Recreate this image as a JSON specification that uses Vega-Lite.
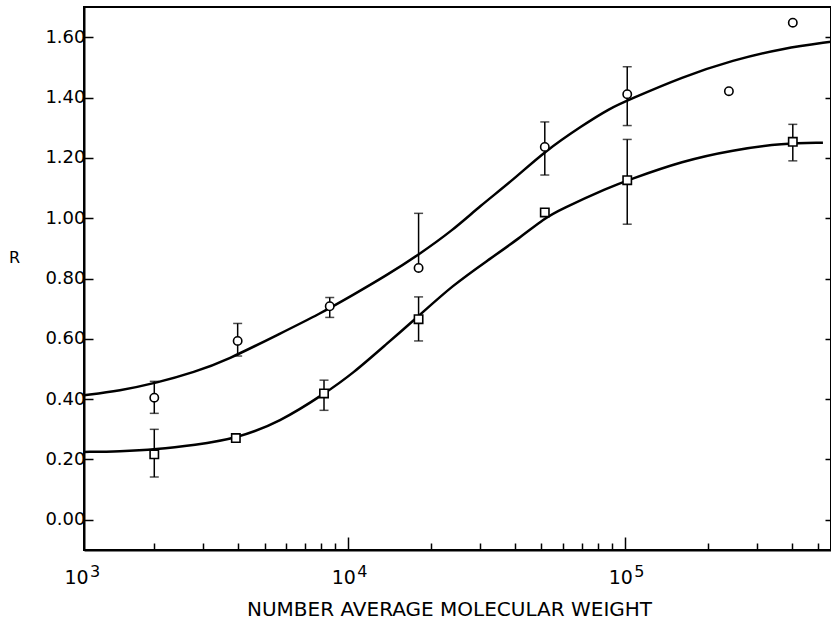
{
  "$schema": "https://vega.github.io/schema/vega-lite/v6.json",
  "width": 747,
  "height": 543,
  "autosize": {"type": "none"},
  "padding": {"left": 84, "top": 7, "right": 0, "bottom": 70},
  "background": "white",
  "config": {
    "view": {"stroke": "black", "strokeWidth": 2},
    "font": "DejaVu Sans",
    "axis": {
      "domainColor": "black", "tickColor": "black", "labelColor": "black", "titleColor": "black",
      "labelFont": "DejaVu Sans", "titleFont": "DejaVu Sans", "grid": false,
      "domainWidth": 2, "tickWidth": 1.5
    }
  },
  "datasets": {
    "curves": [
      {"series": "circle", "M": 1115, "R": 0.413},
      {"series": "circle", "M": 1500, "R": 0.428},
      {"series": "circle", "M": 2040, "R": 0.454},
      {"series": "circle", "M": 2800, "R": 0.49},
      {"series": "circle", "M": 3650, "R": 0.529},
      {"series": "circle", "M": 5680, "R": 0.617},
      {"series": "circle", "M": 7925, "R": 0.683},
      {"series": "circle", "M": 10420, "R": 0.745},
      {"series": "circle", "M": 13830, "R": 0.811},
      {"series": "circle", "M": 17890, "R": 0.877},
      {"series": "circle", "M": 23930, "R": 0.96},
      {"series": "circle", "M": 29960, "R": 1.04},
      {"series": "circle", "M": 39420, "R": 1.126},
      {"series": "circle", "M": 51400, "R": 1.222},
      {"series": "circle", "M": 70460, "R": 1.308},
      {"series": "circle", "M": 88260, "R": 1.364},
      {"series": "circle", "M": 102600, "R": 1.391},
      {"series": "circle", "M": 161900, "R": 1.469},
      {"series": "circle", "M": 245600, "R": 1.524},
      {"series": "circle", "M": 371500, "R": 1.563},
      {"series": "circle", "M": 555000, "R": 1.585},
      {"series": "square", "M": 1115, "R": 0.225},
      {"series": "square", "M": 1500, "R": 0.227},
      {"series": "square", "M": 2030, "R": 0.233},
      {"series": "square", "M": 2800, "R": 0.248},
      {"series": "square", "M": 3940, "R": 0.269},
      {"series": "square", "M": 5680, "R": 0.324},
      {"series": "square", "M": 8260, "R": 0.419},
      {"series": "square", "M": 10420, "R": 0.485},
      {"series": "square", "M": 13830, "R": 0.584},
      {"series": "square", "M": 17890, "R": 0.673},
      {"series": "square", "M": 23930, "R": 0.778},
      {"series": "square", "M": 31760, "R": 0.858},
      {"series": "square", "M": 41780, "R": 0.935},
      {"series": "square", "M": 51400, "R": 1.0},
      {"series": "square", "M": 58240, "R": 1.028},
      {"series": "square", "M": 88260, "R": 1.103},
      {"series": "square", "M": 102600, "R": 1.126},
      {"series": "square", "M": 161900, "R": 1.19},
      {"series": "square", "M": 245600, "R": 1.226},
      {"series": "square", "M": 371500, "R": 1.248},
      {"series": "square", "M": 519000, "R": 1.25}
    ],
    "points": [
      {"series": "circle", "M": 2000, "R": 0.405, "lo": 0.353, "hi": 0.459},
      {"series": "circle", "M": 4000, "R": 0.593, "lo": 0.543, "hi": 0.651},
      {"series": "circle", "M": 8600, "R": 0.708, "lo": 0.671, "hi": 0.737},
      {"series": "circle", "M": 18000, "R": 0.835, "lo": 0.835, "hi": 1.016},
      {"series": "circle", "M": 51400, "R": 1.236, "lo": 1.143, "hi": 1.319},
      {"series": "circle", "M": 102000, "R": 1.411, "lo": 1.307, "hi": 1.502},
      {"series": "circle", "M": 237500, "R": 1.421, "lo": null, "hi": null},
      {"series": "circle", "M": 404000, "R": 1.648, "lo": null, "hi": null},
      {"series": "square", "M": 2000, "R": 0.217, "lo": 0.142, "hi": 0.3},
      {"series": "square", "M": 3940, "R": 0.271, "lo": null, "hi": null},
      {"series": "square", "M": 8200, "R": 0.419, "lo": 0.363, "hi": 0.463},
      {"series": "square", "M": 18000, "R": 0.665, "lo": 0.593, "hi": 0.739},
      {"series": "square", "M": 51400, "R": 1.019, "lo": null, "hi": null},
      {"series": "square", "M": 102000, "R": 1.126, "lo": 0.98, "hi": 1.261},
      {"series": "square", "M": 404000, "R": 1.253, "lo": 1.19, "hi": 1.311}
    ]
  },
  "layer": [
    {
      "encoding": {
        "x": {
          "field": "M", "type": "quantitative", "title": "NUMBER  AVERAGE  MOLECULAR  WEIGHT",
          "scale": {"type": "log", "domain": [1115, 555000], "nice": false},
          "axis": {
            "orient": "bottom",
            "values": [2000, 3000, 4000, 5000, 6000, 7000, 8000, 9000, 10000, 20000, 30000, 40000, 50000, 60000, 70000, 80000, 90000, 100000, 200000, 300000, 400000, 500000],
            "labels": false,
            "tickSize": {"condition": {"test": "datum.value == 10000 || datum.value == 100000", "value": -13}, "value": -7},
            "titleFontSize": 20, "titleFontWeight": "normal", "titleX": 365, "titleY": 65,
            "titleAlign": "center", "titleBaseline": "alphabetic", "titleAnchor": null
          }
        }
      },
      "layer": [
        {
          "data": {"name": "curves"},
          "mark": {"type": "line", "interpolate": "basis", "color": "black", "strokeWidth": 2.5},
          "encoding": {
            "y": {
              "field": "R", "type": "quantitative", "title": "R",
              "scale": {"domain": [-0.1, 1.7], "nice": false, "zero": false},
              "axis": {
                "orient": "left",
                "values": [0, 0.2, 0.4, 0.6, 0.8, 1, 1.2, 1.4, 1.6], "format": ".2f",
                "tickSize": -9, "labelFontSize": 18, "labelPadding": 8,
                "titleAngle": 0, "titleX": -70, "titleY": 250, "titleAlign": "center", "titleBaseline": "middle",
                "titleFontSize": 16, "titleFontWeight": "normal"
              }
            },
            "detail": {"field": "series"}
          }
        },
        {
          "data": {"name": "points"},
          "transform": [{"filter": "isValid(datum.hi)"}],
          "mark": {"type": "rule", "color": "black", "strokeWidth": 1.5},
          "encoding": {
            "y": {"field": "lo", "type": "quantitative", "title": "R", "scale": {"domain": [-0.1, 1.7], "nice": false, "zero": false}},
            "y2": {"field": "hi"}
          }
        },
        {
          "data": {"name": "points"},
          "transform": [{"filter": "isValid(datum.hi)"}],
          "mark": {"type": "tick", "orient": "horizontal", "color": "black", "size": 9, "thickness": 1.5},
          "encoding": {
            "y": {"field": "hi", "type": "quantitative", "title": "R", "scale": {"domain": [-0.1, 1.7], "nice": false, "zero": false}}
          }
        },
        {
          "data": {"name": "points"},
          "transform": [{"filter": "isValid(datum.lo) && datum.lo < datum.R"}],
          "mark": {"type": "tick", "orient": "horizontal", "color": "black", "size": 9, "thickness": 1.5},
          "encoding": {
            "y": {"field": "lo", "type": "quantitative", "title": "R", "scale": {"domain": [-0.1, 1.7], "nice": false, "zero": false}}
          }
        },
        {
          "data": {"name": "points"},
          "mark": {"type": "point", "filled": true, "fill": "white", "stroke": "black", "strokeWidth": 1.6, "opacity": 1, "size": 70},
          "encoding": {
            "y": {"field": "R", "type": "quantitative", "title": "R", "scale": {"domain": [-0.1, 1.7], "nice": false, "zero": false}},
            "shape": {"field": "series", "type": "nominal", "scale": {"domain": ["circle", "square"], "range": ["circle", "square"]}, "legend": null}
          }
        }
      ]
    },
    {
      "data": {"name": "curves"},
      "mark": {"type": "point", "opacity": 0},
      "encoding": {
        "x": {
          "field": "M", "type": "quantitative", "title": null,
          "scale": {"type": "log", "domain": [1115, 555000], "nice": false},
          "axis": {
            "orient": "bottom", "values": [1115, 10000, 100000],
            "labelExpr": "'10'", "ticks": false, "tickSize": 0, "domain": false, "title": null,
            "labelFontSize": 19, "labelPadding": 33, "labelBaseline": "alphabetic", "labelAlign": "center",
            "labelFlush": false, "labelOverlap": false, "labelBound": false,
            "labelOffset": {"condition": {"test": "datum.value < 1200", "value": -8}, "value": -4.5}
          }
        },
        "y": {
          "field": "R", "type": "quantitative", "title": null,
          "scale": {"domain": [-0.1, 1.7], "nice": false, "zero": false},
          "axis": {"orient": "right", "values": [0, 0.2, 0.4, 0.6, 0.8, 1, 1.2, 1.4, 1.6], "labels": false, "domain": false, "tickSize": -6, "title": null}
        }
      }
    },
    {
      "data": {"name": "curves"},
      "mark": {"type": "point", "opacity": 0},
      "encoding": {
        "x": {
          "field": "M", "type": "quantitative", "title": null,
          "scale": {"type": "log", "domain": [1115, 555000], "nice": false},
          "axis": {
            "orient": "bottom", "values": [1115, 10000, 100000],
            "labelExpr": "datum.value < 1200 ? '3' : datum.value < 50000 ? '4' : '5'",
            "ticks": false, "tickSize": 0, "domain": false, "title": null,
            "labelFontSize": 16, "labelPadding": 26, "labelBaseline": "alphabetic", "labelAlign": "center",
            "labelFlush": false, "labelOverlap": false, "labelBound": false,
            "labelOffset": {"condition": {"test": "datum.value < 1200", "value": 10.5}, "value": 14}
          }
        }
      }
    }
  ],
  "resolve": {"axis": {"x": "independent", "y": "independent"}}
}
